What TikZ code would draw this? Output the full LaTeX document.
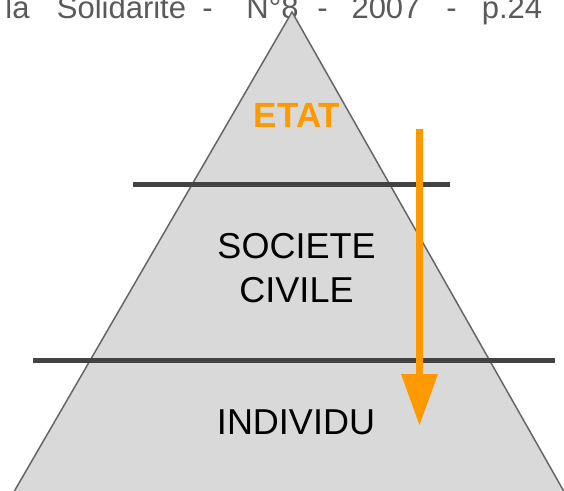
\documentclass[tikz,border=0pt]{standalone}
\usepackage{fontspec}
\setmainfont{Liberation Sans}
\usetikzlibrary{calc}
\begin{document}
\begin{tikzpicture}[x=1pt,y=-1pt,
  hdr/.style={anchor=base,inner sep=0pt,text=hdrgray,font=\fontsize{31}{34}\selectfont},
  lbl/.style={inner sep=0pt,align=center,font=\fontsize{36}{44}\selectfont},
  bar/.style={draw=bargray,line width=5pt},
]
\definecolor{hdrgray}{HTML}{5A5A5A}
\definecolor{bargray}{HTML}{434343}
\definecolor{pyrfill}{HTML}{D9D9D9}
\definecolor{pyredge}{HTML}{666666}
\definecolor{orng}{HTML}{FF9900}
\useasboundingbox (0,0) rectangle (564,490);
\clip (0,0) rectangle (564,490);
% header text
\node[hdr] (h1) at (17.5,18.5) {la};
\node[hdr] (h2) at (121.5,18.5) {Solidarite};
\node[hdr] (h3) at (207.5,18.5) {-};
\node[hdr] (h4) at (272.5,18.5) {N°8};
\node[hdr] (h5) at (322.5,18.5) {-};
\node[hdr] (h6) at (386,18.5) {2007};
\node[hdr] (h7) at (451.5,18.5) {-};
\node[hdr] (h8) at (512,18.5) {p.24};
% pyramid
\filldraw[fill=pyrfill,draw=pyredge,line width=1.5pt,line join=miter]
  (292,12) -- (568.8,500) -- (9.2,500) -- cycle;
% bars
\coordinate (b1l) at (133,184); \coordinate (b1r) at (450,184);
\coordinate (b2l) at (33,360);  \coordinate (b2r) at (555,360);
\draw[bar] (b1l) -- (b1r);
\draw[bar] (b2l) -- (b2r);
% labels
\node[lbl,text=orng,font=\bfseries\fontsize{35}{44}\selectfont] (etat) at (297,115) {ETAT};
\node[lbl] (soc) at (296.5,268) {SOCIETE\\CIVILE};
\node[lbl] (ind) at (296,422) {INDIVIDU};
% arrow
\coordinate (as) at (419.5,129);
\coordinate (ah) at (419.5,374);
\coordinate (at) at (419.5,425);
\draw[orng,line width=7pt] (as) -- (ah);
\fill[orng] ($(ah)+(-18.5,0)$) -- ($(ah)+(18.5,0)$) -- (at) -- cycle;
\end{tikzpicture}
\end{document}
